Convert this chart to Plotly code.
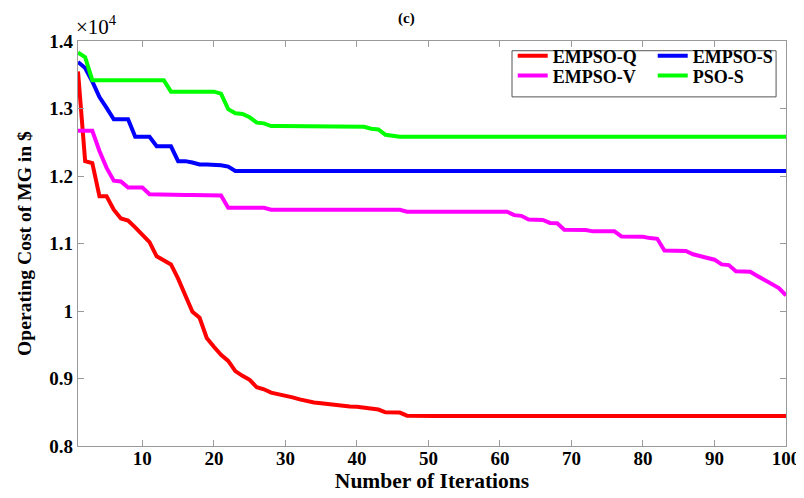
import plotly.graph_objects as go

iterations = list(range(1, 101))

empso_q = [13550, 12220, 12190, 11700, 11700, 11500, 11370, 11340, 11240, 11130,
           11020, 10810, 10750, 10690, 10480, 10230, 9990, 9900, 9600, 9470,
           9350, 9260, 9110, 9040, 8980, 8870, 8840, 8790, 8770, 8740,
           8720, 8690, 8660, 8645, 8635, 8620, 8610, 8595, 8585, 8580,
           8570, 8555, 8540, 8500, 8500, 8495, 8450, 8445, 8445, 8445,
           8445, 8445, 8445, 8445, 8445, 8445, 8445, 8445, 8445, 8445,
           8445, 8445, 8445, 8445, 8445, 8445, 8445, 8445, 8445, 8445,
           8445, 8445, 8445, 8445, 8445, 8445, 8445, 8445, 8445, 8445,
           8445, 8445, 8445, 8445, 8445, 8445, 8445, 8445, 8445, 8445,
           8445, 8445, 8445, 8445, 8445, 8445, 8445, 8445, 8445, 8445]

empso_s = [13690, 13600, 13400, 13170, 13010, 12840, 12840, 12840, 12580, 12580,
           12580, 12440, 12440, 12440, 12220, 12220, 12200, 12170, 12170, 12170,
           12160, 12140, 12075, 12075, 12075, 12075, 12075, 12075, 12075, 12075,
           12075, 12075, 12075, 12075, 12075, 12075, 12075, 12075, 12075, 12075,
           12075, 12075, 12075, 12075, 12075, 12075, 12075, 12075, 12075, 12075,
           12075, 12075, 12075, 12075, 12075, 12075, 12075, 12075, 12075, 12075,
           12075, 12075, 12075, 12075, 12075, 12075, 12075, 12075, 12075, 12075,
           12075, 12075, 12075, 12075, 12075, 12075, 12075, 12075, 12075, 12075,
           12075, 12075, 12075, 12075, 12075, 12075, 12075, 12075, 12075, 12075,
           12075, 12075, 12075, 12075, 12075, 12075, 12075, 12075, 12075, 12075]

empso_v = [12670, 12670, 12670, 12370, 12120, 11930, 11920, 11830, 11830, 11830,
           11730, 11725, 11720, 11720, 11720, 11720, 11720, 11720, 11720, 11720,
           11710, 11530, 11530, 11530, 11530, 11530, 11530, 11500, 11500, 11500,
           11500, 11500, 11500, 11500, 11500, 11500, 11500, 11500, 11500, 11500,
           11500, 11500, 11500, 11500, 11500, 11500, 11470, 11470, 11470, 11470,
           11470, 11470, 11470, 11470, 11470, 11470, 11470, 11470, 11470, 11470,
           11470, 11420, 11410, 11355, 11355, 11350, 11305, 11300, 11205, 11200,
           11200, 11200, 11180, 11180, 11180, 11180, 11105, 11100, 11100, 11100,
           11080, 11070, 10895, 10890, 10890, 10890, 10840, 10810, 10780, 10760,
           10690, 10680, 10590, 10585, 10580, 10520, 10460, 10410, 10340, 10230]

pso_s = [13830, 13760, 13420, 13420, 13420, 13420, 13420, 13420, 13420, 13420,
         13420, 13420, 13420, 13250, 13250, 13250, 13250, 13250, 13250, 13250,
         13220, 12990, 12930, 12920, 12870, 12790, 12780, 12740, 12740, 12740,
         12740, 12740, 12740, 12740, 12740, 12740, 12740, 12740, 12740, 12740,
         12730, 12700, 12690, 12610, 12590, 12580, 12580, 12580, 12580, 12580,
         12580, 12580, 12580, 12580, 12580, 12580, 12580, 12580, 12580, 12580,
         12580, 12580, 12580, 12580, 12580, 12580, 12580, 12580, 12580, 12580,
         12580, 12580, 12580, 12580, 12580, 12580, 12580, 12580, 12580, 12580,
         12580, 12580, 12580, 12580, 12580, 12580, 12580, 12580, 12580, 12580,
         12580, 12580, 12580, 12580, 12580, 12580, 12580, 12580, 12580, 12580]

x_ticks = [10, 20, 30, 40, 50, 60, 70, 80, 90, 100]
y_ticks = [8000, 9000, 10000, 11000, 12000, 13000, 14000]
y_tick_labels = ["0.8", "0.9", "1", "1.1", "1.2", "1.3", "1.4"]

FONT = "Times New Roman, Liberation Serif, serif"
AX = "#9a9a9a"
LW = 4

fig = go.Figure()
fig.add_trace(go.Scatter(x=iterations, y=empso_q, mode="lines", name="EMPSO-Q",
                         line=dict(color="#ff0000", width=LW), legend="legend"))
fig.add_trace(go.Scatter(x=iterations, y=empso_s, mode="lines", name="EMPSO-S",
                         line=dict(color="#0000ff", width=LW), legend="legend"))
fig.add_trace(go.Scatter(x=iterations, y=empso_v, mode="lines", name="EMPSO-V",
                         line=dict(color="#ff00ff", width=LW), legend="legend2"))
fig.add_trace(go.Scatter(x=iterations, y=pso_s, mode="lines", name="PSO-S",
                         line=dict(color="#00ff00", width=LW), legend="legend2"))

legend_common = dict(orientation="h",
                     font=dict(family=FONT, size=18, color="black", weight="bold"),
                     bgcolor="rgba(0,0,0,0)", borderwidth=0, entrywidth=95,
                     xanchor="left", yanchor="middle", tracegroupgap=0,
                     itemwidth=30)

fig.update_layout(
    width=804, height=498,
    margin=dict(l=70, r=18, t=33, b=60),
    paper_bgcolor="white", plot_bgcolor="white",
    font=dict(family=FONT, size=18, color="black"),
    showlegend=True,
    legend=dict(x=0.614, y=0.963, **legend_common),
    legend2=dict(x=0.614, y=0.914, **legend_common),
    xaxis=dict(range=[1, 100], tickvals=x_ticks, ticks="inside", ticklen=6,
               tickcolor=AX, showline=True, linecolor=AX, linewidth=1.2,
               mirror="allticks", showgrid=False, zeroline=False,
               ticklabelstandoff=-5,
               tickfont=dict(family=FONT, size=19, color="black", weight="bold"),
               title=dict(text="<b>Number of Iterations</b>",
                          font=dict(family=FONT, size=21.5, color="black"), standoff=4)),
    yaxis=dict(range=[8000, 14000], tickvals=y_ticks, ticktext=y_tick_labels,
               ticks="inside", ticklen=6, tickcolor=AX, showline=True,
               linecolor=AX, linewidth=1.2, mirror="allticks", showgrid=False,
               zeroline=False,
               tickfont=dict(family=FONT, size=19, color="black", weight="bold"),
               title=dict(text="<b>Operating Cost of MG in $</b>",
                          font=dict(family=FONT, size=19.6, color="black"), standoff=12)),
    shapes=[dict(type="rect", xref="paper", yref="paper",
                 x0=0.613, x1=0.986, y0=0.862, y1=0.976,
                 line=dict(color="#555555", width=1), fillcolor="rgba(0,0,0,0)")],
    annotations=[
        dict(text="×10<sup>4</sup>", xref="paper", yref="paper", x=-0.006, y=1.0,
             xanchor="left", yanchor="bottom", showarrow=False,
             font=dict(family=FONT, size=21, color="black")),
        dict(text="<b>(c)</b>", xref="paper", yref="paper", x=0.464, y=1.082,
             xanchor="center", yanchor="top", showarrow=False,
             font=dict(family=FONT, size=15, color="black")),
    ],
)

fig.write_html("out.html")
